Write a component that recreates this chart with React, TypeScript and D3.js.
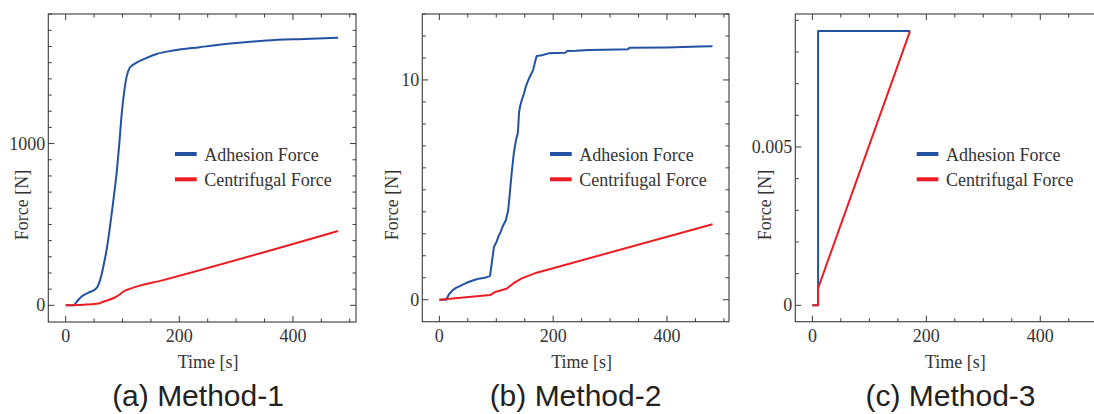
import React from "react";
import * as d3 from "d3";

type Pt = [number, number];

// ---------- data ----------
const seriesNames = ["Adhesion Force", "Centrifugal Force"];
const panelTitles = ["(a) Method-1", "(b) Method-2", "(c) Method-3"];
const xTickLabels = [0, 200, 400];

// (a) Method-1
const adhesionA: Pt[] = [
  [0, 0], [13.5, 0], [20, 25], [28, 54], [40, 78], [51.5, 98], [56, 115], [60, 150], [63, 188],
  [68, 270], [72, 342], [78, 486], [84, 651], [90, 830], [94.4, 1000], [98, 1160], [102.6, 1311],
  [107.3, 1414], [113, 1470], [119, 1488], [136.6, 1521], [160, 1554], [189, 1575], [236, 1596],
  [295, 1620], [353.6, 1637], [420, 1647], [479.6, 1655],
];
const centrifugalA: Pt[] = [
  [0, 0], [31, 4], [54.5, 10], [60, 13], [66, 22], [78, 36], [90, 56], [95, 67], [101, 84],
  [113, 102], [171.7, 156], [479.6, 460],
];
const yTicksA = [0, 1000];

// (b) Method-2
const adhesionB: Pt[] = [
  [0, 0], [11.7, 0], [17, 0.25], [23.4, 0.44], [30, 0.55], [36, 0.62], [42, 0.7], [48, 0.77],
  [56, 0.85], [65.6, 0.93], [72, 0.97], [80, 1.0], [86, 1.05], [89, 1.08], [92, 1.65], [96, 2.41],
  [100, 2.6], [103.7, 2.87], [108, 3.1], [111, 3.32], [117, 3.63], [121, 4.08], [124, 4.9],
  [127, 5.75], [131, 6.7], [134.7, 7.27], [138, 7.6], [140, 8.5], [141.8, 8.79], [145, 9.1],
  [148.8, 9.39], [152, 9.7], [156.4, 10.0], [160, 10.2], [165, 10.46], [168, 10.8], [171, 11.09],
  [180, 11.12], [191.6, 11.21], [205, 11.22], [221, 11.24], [225, 11.32], [240, 11.33],
  [262, 11.36], [290, 11.37], [332, 11.4], [334, 11.47], [400, 11.48], [457, 11.52], [480, 11.53],
];
const centrifugalB: Pt[] = [
  [0, 0], [89, 0.21], [98, 0.35], [118, 0.5], [130, 0.74], [144.7, 0.97], [171, 1.23], [480, 3.43],
];
const yTicksB = [0, 10];

// (c) Method-3
const adhesionC: Pt[] = [[0, 0], [10, 0], [10, 0.00866], [171.4, 0.00866]];
const centrifugalC: Pt[] = [[0, 0], [10, 0], [10, 0.00054], [171.4, 0.00866]];
const yTicksC = [0, 0.005];
const yTickLabelsC = ["0", "0.005"];

// ---------- styles ----------
const BLUE = "#2352a3";
const RED = "#ec1c24";
const AXIS = "#3a3a3a";
const SERIF = "'Liberation Serif', 'Times New Roman', serif";
const SANS = "'Liberation Sans', Arial, sans-serif";

type PanelCfg = {
  left: number; right: number; top: number; bottom: number;
  xDomain: [number, number]; yDomain: [number, number];
  yTicks: number[]; yLabels: string[]; yMinorStep: number;
  adhesion: Pt[]; centrifugal: Pt[]; smooth: boolean;
  legendX: number; yTitleX: number; title: string; titleX: number;
};

const panels: PanelCfg[] = [
  {
    left: 48.3, right: 356, top: 14, bottom: 322,
    xDomain: [-30.6, 511], yDomain: [-103, 1801],
    yTicks: yTicksA, yLabels: yTicksA.map(String), yMinorStep: 100,
    adhesion: adhesionA, centrifugal: centrifugalA, smooth: true,
    legendX: 175, yTitleX: 28, title: panelTitles[0], titleX: 198,
  },
  {
    left: 422.3, right: 729, top: 14, bottom: 321.7,
    xDomain: [-30, 509], yDomain: [-1.0, 13.0],
    yTicks: yTicksB, yLabels: yTicksB.map(String), yMinorStep: 1,
    adhesion: adhesionB, centrifugal: centrifugalB, smooth: false,
    legendX: 550, yTitleX: 398, title: panelTitles[1], titleX: 575.5,
  },
  {
    left: 795.3, right: 1103.5, top: 14, bottom: 321.7,
    xDomain: [-30, 511], yDomain: [-0.000518, 0.0092],
    yTicks: yTicksC, yLabels: yTickLabelsC, yMinorStep: 0.001,
    adhesion: adhesionC, centrifugal: centrifugalC, smooth: false,
    legendX: 916.7, yTitleX: 771, title: panelTitles[2], titleX: 950.5,
  },
];

const FS = 18;

function Panel({ p }: { p: PanelCfg }) {
  const x = d3.scaleLinear().domain(p.xDomain).range([p.left, p.right]);
  const y = d3.scaleLinear().domain(p.yDomain).range([p.bottom, p.top]);
  const line = d3
    .line<Pt>()
    .x((d) => x(d[0]))
    .y((d) => y(d[1]))
    .curve(p.smooth ? d3.curveMonotoneX : d3.curveLinear);

  const xMinor = d3.range(0, 501, 50);
  const yMinor: number[] = [];
  for (let v = 0; v <= p.yDomain[1] + 1e-12; v += p.yMinorStep) yMinor.push(v);

  const MAJ = 6;
  const MIN = 3.5;
  const isXMajor = (v: number) => xTickLabels.includes(v);
  const isYMajor = (v: number) => p.yTicks.some((t) => Math.abs(t - v) < p.yMinorStep * 1e-3);

  return (
    <g>
      {/* data */}
      <path d={line(p.adhesion) || ""} fill="none" stroke={BLUE} strokeWidth={2} strokeLinejoin="round" />
      <path d={line(p.centrifugal) || ""} fill="none" stroke={RED} strokeWidth={2} strokeLinejoin="round" />

      {/* frame */}
      <rect x={p.left} y={p.top} width={p.right - p.left} height={p.bottom - p.top}
        fill="none" stroke={AXIS} strokeWidth={1.1} />

      {/* x ticks */}
      {xMinor.map((v) => {
        const L = isXMajor(v) ? MAJ : MIN;
        const xx = x(v);
        return (
          <g key={"xt" + v}>
            <line x1={xx} x2={xx} y1={p.bottom} y2={p.bottom - L} stroke={AXIS} strokeWidth={1} />
            <line x1={xx} x2={xx} y1={p.top} y2={p.top + L} stroke={AXIS} strokeWidth={1} />
          </g>
        );
      })}
      {xTickLabels.map((v) => (
        <text key={"xl" + v} x={x(v)} y={p.bottom + 20} textAnchor="middle"
          fontFamily={SERIF} fontSize={FS} fill="#333">{v}</text>
      ))}

      {/* y ticks */}
      {yMinor.map((v, i) => {
        const L = isYMajor(v) ? MAJ : MIN;
        const yy = y(v);
        return (
          <g key={"yt" + i}>
            <line x1={p.left} x2={p.left + L} y1={yy} y2={yy} stroke={AXIS} strokeWidth={1} />
            <line x1={p.right} x2={p.right - L} y1={yy} y2={yy} stroke={AXIS} strokeWidth={1} />
          </g>
        );
      })}
      {p.yTicks.map((v, i) => (
        <text key={"yl" + i} x={p.left - 3} y={y(v) + 6} textAnchor="end"
          fontFamily={SERIF} fontSize={FS} fill="#333">{p.yLabels[i]}</text>
      ))}

      {/* axis titles */}
      <text x={(p.left + p.right) / 2 + 6} y={367.5} textAnchor="middle"
        fontFamily={SERIF} fontSize={FS} fill="#333">Time [s]</text>
      <text transform={`translate(${p.yTitleX},205) rotate(-90)`} textAnchor="middle"
        fontFamily={SERIF} fontSize={FS} fill="#333">Force [N]</text>

      {/* legend */}
      {seriesNames.map((name, i) => {
        const ly = 154 + i * 25.3;
        return (
          <g key={name}>
            <line x1={p.legendX} x2={p.legendX + 21.7} y1={ly} y2={ly}
              stroke={i === 0 ? BLUE : RED} strokeWidth={4} />
            <text x={p.legendX + 29.3} y={ly + 6.5} fontFamily={SERIF} fontSize={FS} fill="#333">{name}</text>
          </g>
        );
      })}

      {/* panel title */}
      <text x={p.titleX} y={406} textAnchor="middle" fontFamily={SANS} fontSize={30} fill="#222">
        {p.title}
      </text>
    </g>
  );
}

export default function App() {
  return (
    <svg width={1094} height={414} viewBox="0 0 1094 414"
      style={{ position: "absolute", left: 0, top: 0, display: "block", background: "#fff" }}>
      <rect x={0} y={0} width={1094} height={414} fill="#fff" />
      {panels.map((p, i) => (
        <Panel key={i} p={p} />
      ))}
    </svg>
  );
}
